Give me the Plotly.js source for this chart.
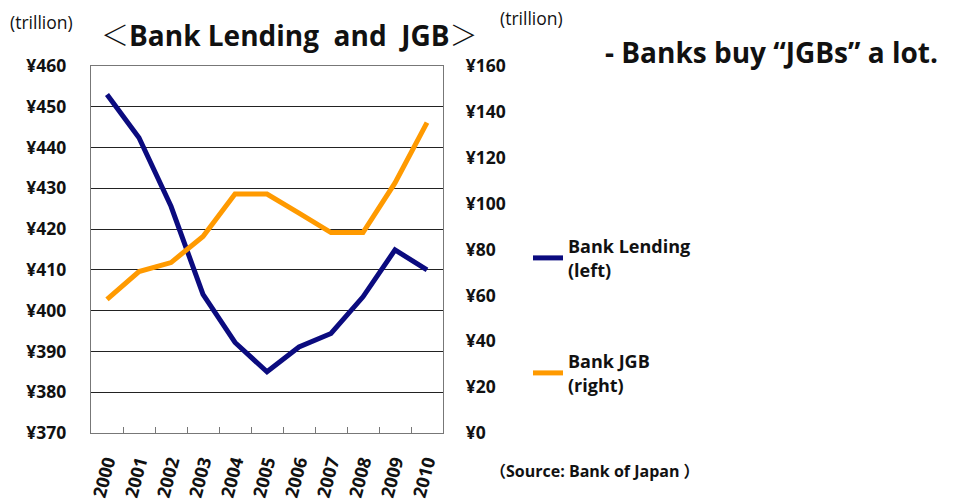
<!DOCTYPE html>
<html><head><meta charset="utf-8">
<script src="https://cdn.plot.ly/plotly-3.0.1.min.js"></script>
<style>html,body{margin:0;padding:0;background:#fff}#c{width:954px;height:501px}</style>
</head><body><div id="c"></div>
<script>
const years = ["2000","2001","2002","2003","2004","2005","2006","2007","2008","2009","2010"];
const bankLending = [453, 442.4, 425.6, 404, 392.2, 385, 391.1, 394.4, 403.4, 414.9, 410];
const bankJGB = [58.3, 70.4, 74.3, 85.7, 104.2, 104.2, 95.9, 87.4, 87.4, 109, 135.3];
const leftTicks = [370,380,390,400,410,420,430,440,450,460];
const rightTicks = [0,20,40,60,80,100,120,140,160];
const leftTickText = leftTicks.map(v => "¥" + v);
const rightTickText = rightTicks.map(v => "¥" + v);

const F = "Open Sans, Noto Sans, sans-serif";
const CJK = "Noto Sans CJK JP";
const traces = [
  {x: years, y: bankLending, type: "scatter", mode: "lines", name: "Bank Lending<br>(left)",
   line: {color: "#0b0b7f", width: 5}, yaxis: "y", legend: "legend"},
  {x: years, y: bankJGB, type: "scatter", mode: "lines", name: "Bank JGB<br>(right)",
   line: {color: "#ff9a00", width: 5}, yaxis: "y2", legend: "legend2"}
];
const tf = {size: 17.5, family: F, weight: "bold", color: "#111"};
const layout = {
  width: 954, height: 501,
  margin: {l: 91, r: 511, t: 66, b: 68},
  paper_bgcolor: "#fff", plot_bgcolor: "#fff",
  font: {family: F, color: "#111"},
  showlegend: true,
  xaxis: {type: "category", range: [-0.5, 10.5], showgrid: false,
    ticks: "inside", tickson: "boundaries", ticklen: 6, tickcolor: "#777",
    showline: true, linecolor: "#777", linewidth: 1.3, mirror: true,
    tickangle: -75, tickfont: {size: 18, family: F, weight: "bold", color: "#111"}, ticklabelstandoff: 10},
  yaxis: {range: [370, 460], tickvals: leftTicks, ticktext: leftTickText,
    showgrid: true, gridcolor: "#222", gridwidth: 1, zeroline: false,
    showline: true, linecolor: "#777", linewidth: 1.3, ticks: "",
    tickfont: tf, ticklabelstandoff: 20},
  yaxis2: {range: [0, 160], tickvals: rightTicks, ticktext: rightTickText, overlaying: "y", side: "right",
    showgrid: false, zeroline: false, showline: true, linecolor: "#777", linewidth: 1.3, ticks: "",
    tickfont: tf, ticklabelstandoff: 18},
  legend: {bgcolor: "rgba(0,0,0,0)", font: {size: 18, family: F, weight: "bold", color: "#111"}, itemwidth: 30,
    x: (528-91)/352, y: (433-228)/367, xanchor: "left", yanchor: "top"},
  legend2: {bgcolor: "rgba(0,0,0,0)", font: {size: 18, family: F, weight: "bold", color: "#111"}, itemwidth: 30,
    x: (528-91)/352, y: (433-343)/367, xanchor: "left", yanchor: "top"},
  annotations: [
    {text: "<span style='font-family:" + CJK + ";font-weight:300'>＜</span>Bank Lending  and  JGB<span style='font-family:" + CJK + ";font-weight:300'>＞</span>",
     xref: "paper", yref: "paper", x: (289-91)/352, y: (433-34)/367,
     xanchor: "center", yanchor: "middle", showarrow: false, font: {size: 28, family: F, weight: "bold", color: "#111"}},
    {text: "(trillion)", xref: "paper", yref: "paper", x: (8-91)/352, y: (433-22)/367,
     xanchor: "left", yanchor: "middle", showarrow: false, font: {size: 17.5, family: F, color: "#111"}},
    {text: "(trillion)", xref: "paper", yref: "paper", x: (498-91)/352, y: (433-18)/367,
     xanchor: "left", yanchor: "middle", showarrow: false, font: {size: 17.5, family: F, color: "#111"}},
    {text: "- Banks buy “JGBs” a lot.", xref: "paper", yref: "paper", x: (603-91)/352, y: (433-52)/367,
     xanchor: "left", yanchor: "middle", showarrow: false, font: {size: 28, family: F, weight: "bold", color: "#111"}},
    {text: "<span style='font-family:" + CJK + "'>（</span>Source: Bank of Japan <span style='font-family:" + CJK + "'>）</span>",
     xref: "paper", yref: "paper", x: (488-91)/352, y: (433-470)/367,
     xanchor: "left", yanchor: "middle", showarrow: false, font: {size: 16, family: F, weight: "bold", color: "#111"}}
  ]
};
Plotly.newPlot("c", traces, layout, {displayModeBar: false, staticPlot: true});
</script></body></html>
